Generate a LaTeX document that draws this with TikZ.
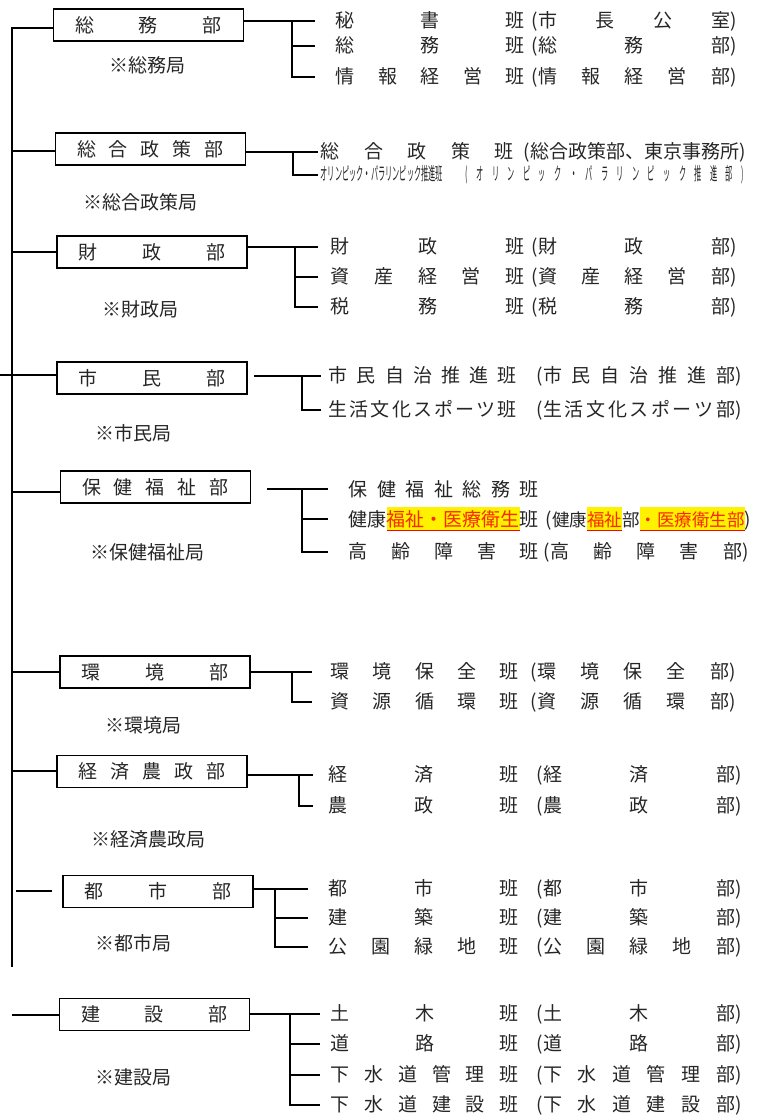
\documentclass[tikz,border=0pt]{standalone}
\usepackage{fontspec}
\setmainfont{Noto Sans CJK JP}
\usepackage{graphicx}
\usetikzlibrary{positioning}

\definecolor{hltext}{RGB}{250,40,0}
\newsavebox\hlbox
\newcommand\hl[1]{\sbox\hlbox{\color{hltext}#1}%
  \rlap{\color{yellow}\rule[-5pt]{\wd\hlbox}{24pt}}%
  \rlap{\color{red}\rule[-5pt]{\wd\hlbox}{1.2pt}}%
  \usebox\hlbox}

% spread the characters of #2 evenly over the width #1
\def\spfirst#1{#1\spnext}
\def\spnext#1{\ifx#1\relax\else\hfill#1\expandafter\spnext\fi}
\newcommand\spread[2]{\makebox[#1][s]{\spfirst#2\relax}}
\newcommand\kanrow[4][7pt]{\spread{#2}{#3}\hspace{#1}(\spread{192pt}{#4})}

\begin{document}
\begin{tikzpicture} [
    x=1pt, y=-1pt, line width=1.5pt,
    every node/.style = {font=\fontsize{19}{22}\selectfont, text=black!85, inner sep=0pt},
    dept/.style = {draw, line width=1.6pt, minimum width=190pt, minimum height=32pt},
    row/.style = {anchor=west}]
    % \draw [help lines] (0,0) grid (763,1117);
    \useasboundingbox (0,0) rectangle (763,1117);

    \node (soumu) [dept] at (148.5,25) {\spread{147pt}{総務部}};
    \node (soumu-note) at (147,65) {※総務局};
    \node (soumu-1) [row] at (335,21) {\kanrow{189pt}{秘書班}{市長公室}};
    \node (soumu-2) [row] at (335,46) {\kanrow{189pt}{総務班}{総務部}};
    \node (soumu-3) [row] at (335,77) {\kanrow{189pt}{情報経営班}{情報経営部}};

    \node (sougou) [dept] at (150.5,149) {\spread{147pt}{総合政策部}};
    \node (sougou-note) at (140,202) {※総合政策局};
    \node (sougou-1) [row] at (320,152) {\spread{193pt}{総合政策班}\hspace{10pt}(総合政策部、東京事務所)};
    \node (sougou-2) [row] at (320,175) {\fontsize{18}{20}\selectfont
        \scalebox{0.4}[1]{\spread{270pt}{オリンピック・パラリンピック推進班}}\hspace{37pt}%
        \scalebox{0.4}[1]{\spread{695pt}{(オリンピック・パラリンピック推進部)}}};

    \node (zaisei) [dept] at (152,252) {\spread{147pt}{財政部}};
    \node (zaisei-note) at (140,309) {※財政局};
    \node (zaisei-1) [row] at (330,247) {\kanrow{194pt}{財政班}{財政部}};
    \node (zaisei-2) [row] at (330,277) {\kanrow{194pt}{資産経営班}{資産経営部}};
    \node (zaisei-3) [row] at (330,307) {\kanrow{194pt}{税務班}{税務部}};

    \node (shimin) [dept] at (152,378) {\spread{147pt}{市民部}};
    \node (shimin-note) at (133,433) {※市民局};
    \node (shimin-1) [row] at (328,376) {\kanrow[20pt]{188pt}{市民自治推進班}{市民自治推進部}};
    \node (shimin-2) [row] at (328,410) {\kanrow[20pt]{188pt}{生活文化スポーツ班}{生活文化スポーツ部}};

    \node (hoken) [dept] at (155.5,487) {\spread{147pt}{保健福祉部}};
    \node (hoken-note) at (147,552) {※保健福祉局};
    \node (hoken-1) [row] at (348,489) {\spread{190pt}{保健福祉総務班}};
    \node (hoken-2) [row] at (348,519) {健康\hl{福祉・医療衛生}班\hspace{7pt}({\fontsize{17.5}{20}\selectfont 健康\hl{福祉}部\hl{・医療衛生部}})};
    \node (hoken-3) [row] at (348,552) {\kanrow[5pt]{190pt}{高齢障害班}{高齢障害部}};

    \node (kankyo) [dept] at (155,672) {\spread{147pt}{環境部}};
    \node (kankyo-note) at (143,725) {※環境局};
    \node (kankyo-1) [row] at (330,672) {\kanrow[12pt]{188pt}{環境保全班}{環境保全部}};
    \node (kankyo-2) [row] at (330,702) {\kanrow[12pt]{188pt}{資源循環班}{資源循環部}};

    \node (keizai) [dept] at (152,771.5) {\spread{147pt}{経済農政部}};
    \node (keizai-note) at (148,839) {※経済農政局};
    \node (keizai-1) [row] at (328,775) {\kanrow[18pt]{190pt}{経済班}{経済部}};
    \node (keizai-2) [row] at (328,806) {\kanrow[18pt]{190pt}{農政班}{農政部}};

    \node (toshi) [dept] at (158,891.5) {\spread{147pt}{都市部}};
    \node (toshi-note) at (133,943) {※都市局};
    \node (toshi-1) [row] at (328,889) {\kanrow[18pt]{190pt}{都市班}{都市部}};
    \node (toshi-2) [row] at (328,918) {\kanrow[18pt]{190pt}{建築班}{建築部}};
    \node (toshi-3) [row] at (328,947) {\kanrow[18pt]{190pt}{公園緑地班}{公園緑地部}};

    \node (kensetsu) [dept] at (154.5,1014.5) {\spread{147pt}{建設部}};
    \node (kensetsu-note) at (133,1077) {※建設局};
    \node (kensetsu-1) [row] at (330,1014) {\kanrow[18pt]{188pt}{土木班}{土木部}};
    \node (kensetsu-2) [row] at (330,1044) {\kanrow[18pt]{188pt}{道路班}{道路部}};
    \node (kensetsu-3) [row] at (330,1075) {\kanrow[18pt]{188pt}{下水道管理班}{下水道管理部}};
    \node (kensetsu-4) [row] at (330,1105) {\kanrow[18pt]{188pt}{下水道建設班}{下水道建設部}};

    % trunk on the left
    \coordinate (top) at (12,28);
    \coordinate (bottom) at (12,967);
    \draw (bottom) -- (top) -- (top -| soumu.west);
    \foreach \d/\y in {sougou/151, zaisei/252, hoken/492, kankyo/672, keizai/771} {
        \coordinate (\d-t) at (12,\y);
        \draw (\d-t) -- (\d-t -| \d.west);
    }
    \coordinate (shimin-t) at (0,375);
    \draw (shimin-t) -- (shimin-t -| shimin.west);
    \coordinate (toshi-t) at (16,891);
    \draw (toshi-t) -- ([xshift=-10pt]toshi-t -| toshi.west);
    \coordinate (kensetsu-t) at (12,1015);
    \draw (kensetsu-t) -- (kensetsu-t -| kensetsu.west);

    % brackets on the right
    \foreach \d/\v/\e/\n/\g in {soumu/292/315/3/0, sougou/293/318/2/0, zaisei/295/318/3/0,
            shimin/302/321/2/6, hoken/302/328/3/16, kankyo/292/312/2/0, keizai/299/313/2/0,
            toshi/275/308/3/0, kensetsu/290/320/4/0} {
        \coordinate (\d-v) at (\v,0);
        \coordinate (\d-e) at (\e,0);
        \draw [shorten <=\g pt] (\d.east |- \d-1) -- (\d-1 -| \d-e);
        \draw (\d-1 -| \d-v) |- (\d-\n -| \d-e);
        \ifnum\n>2
            \foreach \r in {2,...,\numexpr\n-1\relax}
                \draw (\d-\r -| \d-v) -- (\d-\r -| \d-e);
        \fi
    }
\end{tikzpicture}
\end{document}
